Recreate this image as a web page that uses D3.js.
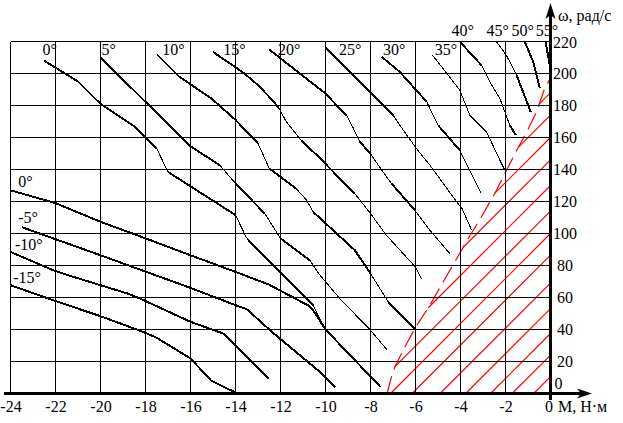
<!DOCTYPE html>
<html><head><meta charset="utf-8">
<script src="https://cdn.jsdelivr.net/npm/d3@7"></script>
<style>
html,body{margin:0;padding:0;background:#fff;}
svg{display:block;}
text{font-family:"Liberation Serif","Times New Roman",serif;fill:#000;}
</style></head><body>
<svg id="chart" width="623" height="423"></svg>
<script>
// ---------- data ----------
const torqueTicks = [-24,-22,-20,-18,-16,-14,-12,-10,-8,-6,-4,-2,0];
const speedTicks = [0,20,40,60,80,100,120,140,160,180,200,220];
const upperLabels = ["0°","5°","10°","15°","20°","25°","30°","35°","40°","45°","50°","55°"];
const lowerLabels = ["0°","-5°","-10°","-15°"];
const xTitle = "М, Н·м";
const yTitle = "ω, рад/с";

// upper family: [M, ω]
const up0  = [[-22.5,208],[-21,195],[-20,181],[-18.5,167],[-18,160],[-17.5,153],[-17,138.5],[-14,111.5],[-13.5,97],[-10.55,55],[-10,40],[-7.55,4]];
const up5  = [[-20,210],[-16,154.5],[-14.7,142.7],[-14,131.3],[-12.7,112.5],[-12,97],[-10.7,83.3],[-10.25,74],[-9.3,58.3],[-8,39.6],[-7.25,27]];
const up10 = [[-17.5,212],[-16.5,198],[-15.07,184.4],[-14,171],[-13,156.3],[-12.5,140.6],[-11.3,128],[-10.85,121],[-10.55,113.5],[-8.7,89.6],[-8,75],[-7.2,57],[-6,40]];
const up15 = [[-15,213.5],[-13.6,200],[-13,192.7],[-12.5,185.4],[-12.1,179],[-11.75,170],[-11.07,158],[-10.2,146.5],[-9.8,140.6],[-8.7,125],[-8,112.5],[-7.3,99],[-6,79],[-5.73,71.4]];
const up20 = [[-12.5,215],[-11.14,200],[-10,187.5],[-9.5,180],[-9.07,174],[-8.77,166],[-8.48,157.5],[-7.96,149],[-7.5,139.6],[-7.07,131.3],[-6.03,114.6],[-5.36,102],[-4.48,87.5]];
const up25 = [[-10,216.4],[-8.79,199],[-8.03,188.3],[-7,174],[-6.48,163.3],[-5.9,152],[-5.36,142.7],[-4.16,119.6],[-3.94,115.8],[-3.5,102]];
const up30 = [[-7.5,210.4],[-6.7,201],[-5.5,182.3],[-5,167.7],[-4.03,152],[-3.59,139.6],[-3.07,125]];
const up35 = [[-5.24,211.4],[-4.03,189.6],[-3.59,174],[-2.84,163.5],[-2.25,145.8],[-2.03,139.6]];
const up40 = [[-4,219.4],[-3.07,205.2],[-2.7,194.8],[-2.25,184.4],[-1.81,167.7],[-1.54,161.4]];
const up45 = [[-2.4,219.8],[-1.96,211.4],[-1.51,199],[-1.22,188.5],[-0.88,176]];
const up50 = [[-1.14,219.8],[-0.77,207.3],[-0.62,199],[-0.48,191]];
const up55 = [[-0.22,219.8],[-0.03,205.2]];

// lower family
const low0   = [[-24,127],[-22,119],[-20,107.3],[-18,97],[-16,86.4],[-14,76],[-12.5,68],[-11.9,63.5],[-10.7,54.5],[-10.45,50],[-10,40],[-7.55,4]];
const lowM5  = [[-23.5,104],[-20,86.4],[-16,66],[-14,55.2],[-13.5,52.7],[-12.3,37.5],[-10.25,13.5],[-9.56,3.75]];
const lowM10 = [[-24,88.5],[-22.1,77],[-21.3,73.3],[-20,67.7],[-18.8,62.5],[-18.25,59.4],[-16,44.8],[-14.55,37.5],[-12.52,9.4]];
const lowM15 = [[-24,67.7],[-22.1,58.3],[-20,48.3],[-18.1,38.5],[-17.5,34.8],[-16,21.9],[-15.07,7.9],[-14,0.6]];

// dashed limit line and hatch lines (ω where each hatch line meets M = 0)
const boundary = [[-7.26,0],[-7.07,10.4],[-6.92,16.6],[-6.55,27],[-6.03,40.6],[-5.36,55.2],[-4.77,69.8],[-4.25,82.3],[-3.66,96.9],[-3.07,110.4],[-2.4,127],[-1.88,141.6],[-1.5,152],[-1,165],[-0.62,176],[-0.25,191],[0,197]];
const hatchIntercepts = [10.5,24,37.5,53,69,86.5,100,114,130,146,160,174,188];

// ---------- styles / layout ----------
const upperCurves = [up0,up5,up10,up15,up20,up25,up30,up35,up40,up45,up50,up55];
const lowerCurves = [low0,lowM5,lowM10,lowM15];
const upperWidths = [
  [2,2,2,2,2,1,2,1,2,1,2],
  [2,2,1,2,1,2,1,1,1,1],
  [2,2,2,2,1,2,1,1,2,2,1,2],
  [2,2,2,2,1,1,2,2,2,1,1,1,1],
  [2,2,2,2,1,1,2,1,1,2,1,1],
  [2,2,2,1,1,1,1,1,1],
  [2,2,1,2,1,1],
  [1,1,1,1,1],
  [2,1,1,1,2],
  [1,1,2,2],
  [2,2,2],
  [2]
];
const upperLabelPos = [[-22.58,211.4],[-19.96,211.4],[-17.26,211.4],[-14.55,211.4],[-12.11,211.4],[-9.4,211.4],[-7.44,211.4],[-5.14,211.4],[-4.4,223.5],[-2.84,223.5],[-1.73,223.5],[-0.66,223.5]];
const lowerLabelPos = [[-23.66,129],[-23.66,106.4],[-23.8,89.6],[-23.88,68.9]];

const svg = d3.select("#chart");
const x = d3.scaleLinear().domain([-24,0]).range([10.5,550.5]);
const y = d3.scaleLinear().domain([0,220]).range([393.5,41.5]);
const FS = 16;
const line = d3.line().x(d=>x(d[0])).y(d=>y(d[1]));

// hatch (drawn under the grid)
const k = (x(0)-x(-1))/(y(0)-y(1));
function hatchStart(wr){
  const m0 = -wr/k;
  for(let i=boundary.length-1;i>0;i--){
    const [m1,b1]=boundary[i-1],[m2,b2]=boundary[i];
    const f1=wr+k*m1-b1, f2=wr+k*m2-b2;
    if(f1>=0 && f2<=0){
      const t = f2===f1?0:f2/(f2-f1);
      return Math.max(m2+(m1-m2)*t, m0);
    }
  }
  return m0;
}
svg.append("g").attr("stroke","#ff0000").attr("stroke-width",1.2)
  .selectAll("line").data(hatchIntercepts).join("line")
  .attr("x1",d=>x(hatchStart(d))).attr("y1",d=>y(d+k*hatchStart(d)))
  .attr("x2",x(0)).attr("y2",d=>y(d));
svg.append("path").attr("d",line(boundary)).attr("fill","none")
  .attr("stroke","#ff0000").attr("stroke-width",1.2).attr("stroke-dasharray","18,7");

// grid
const grid = svg.append("g").attr("stroke","#000").attr("stroke-width",1).attr("shape-rendering","crispEdges");
grid.selectAll("line.h").data(speedTicks.filter(d=>d>0)).join("line")
  .attr("x1",x(-24)).attr("x2",x(0)).attr("y1",d=>y(d)).attr("y2",d=>y(d));
grid.selectAll("line.v").data(torqueTicks.filter(d=>d<0)).join("line").attr("class","v")
  .attr("x1",d=>x(d)).attr("x2",d=>x(d)).attr("y1",y(0)).attr("y2",y(220));

// curves with per-segment widths
function drawCurve(pts, widths){
  let start=0;
  for(let i=1;i<=widths.length;i++){
    if(i===widths.length || widths[i]!==widths[start]){
      svg.append("path").attr("d",line(pts.slice(start,i+1)))
        .attr("fill","none").attr("stroke","#000")
        .attr("stroke-width",widths[start]===2?2:1)
        .attr("shape-rendering","crispEdges")
        .attr("stroke-linejoin","round");
      start=i;
    }
  }
}
upperCurves.forEach((c,i)=>drawCurve(c, upperWidths[i]));
lowerCurves.forEach(c=>drawCurve(c, c.slice(1).map(()=>2)));

// curve labels
svg.append("g").selectAll("text").data(upperLabels).join("text")
  .attr("x",(d,i)=>x(upperLabelPos[i][0])).attr("y",(d,i)=>y(upperLabelPos[i][1]))
  .attr("font-size",FS).text(d=>d);
svg.append("g").selectAll("text").data(lowerLabels).join("text")
  .attr("x",(d,i)=>x(lowerLabelPos[i][0])).attr("y",(d,i)=>y(lowerLabelPos[i][1]))
  .attr("font-size",FS).text(d=>d);

// axes ticks labels
const gx = svg.append("g").attr("transform",`translate(0,${y(0)})`)
  .call(d3.axisBottom(x).tickValues(torqueTicks).tickSize(0).tickPadding(7).tickFormat(d=>String(d)));
gx.select(".domain").remove();
gx.selectAll("text").attr("font-size",FS).attr("font-family",'"Liberation Serif",serif').attr("fill","#000")
  .attr("dx",d=>d===0?-2:0);
const gy = svg.append("g").attr("transform",`translate(${x(0)},0)`)
  .call(d3.axisRight(y).tickValues(speedTicks).tickSize(0).tickPadding(0));
gy.select(".domain").remove();
gy.selectAll("text").attr("font-size",FS).attr("font-family",'"Liberation Serif",serif').attr("fill","#000")
  .attr("text-anchor","middle").attr("x",d=>d===0?8:14.5).attr("y",d=>d===0?-10:(d===220?1:0));

// axis lines + arrows
svg.append("line").attr("x1",4).attr("x2",582).attr("y1",y(0)).attr("y2",y(0)).attr("stroke","#000").attr("stroke-width",3);
svg.append("line").attr("x1",x(0)).attr("x2",x(0)).attr("y1",400).attr("y2",14).attr("stroke","#000").attr("stroke-width",3);
svg.append("path").attr("d",`M592,${y(0)} L577,${y(0)-5} L581,${y(0)} L577,${y(0)+5} Z`).attr("fill","#000");
svg.append("path").attr("d",`M${x(0)},3 L${x(0)-5},19 L${x(0)},15 L${x(0)+5},19 Z`).attr("fill","#000");

// axis titles
svg.append("text").attr("x",558).attr("y",20.5).attr("font-size",FS).text(yTitle);
svg.append("text").attr("x",558).attr("y",411.5).attr("font-size",FS).text(xTitle);
</script>
</body></html>
